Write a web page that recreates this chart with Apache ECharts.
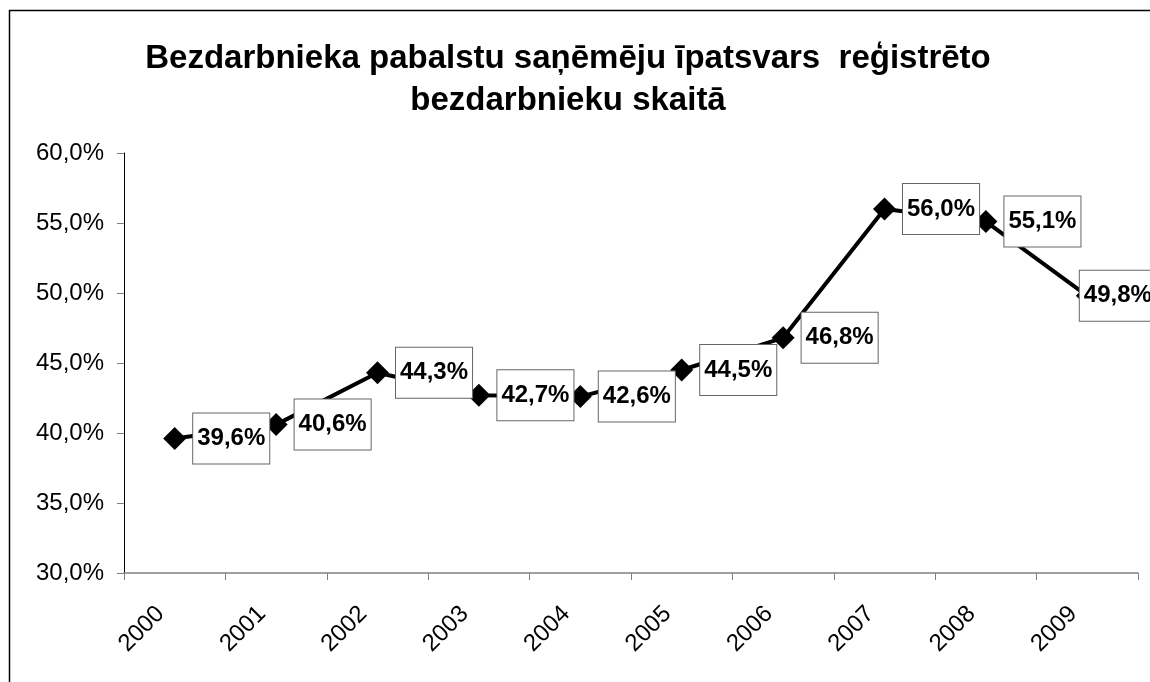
<!DOCTYPE html>
<html>
<head>
<meta charset="utf-8">
<script src="https://cdn.jsdelivr.net/npm/echarts@6/dist/echarts.min.js"></script>
<style>
  html, body { margin: 0; padding: 0; background: #fff; }
  #chart { width: 1150px; height: 682px; }
</style>
</head>
<body>
<div id="chart"></div>
<script>
var years = ['2000', '2001', '2002', '2003', '2004', '2005', '2006', '2007', '2008', '2009']
var share = [39.6, 40.6, 44.3, 42.7, 42.6, 44.5, 46.8, 56.0, 55.1, 49.8]
var yTicks = { min: 30, max: 60, step: 5 }

var fmt = function (v) {
    return v.toFixed(1).replace('.', ',') + '%'
}

var chart = echarts.init(document.getElementById('chart'))

var points = share.map(function (v, i) {
    // last one sits inside the plot, like in the original
    if (i === share.length - 1) {
        return { value: v, label: { offset: [-26, 0] } }
    }
    return v
})

chart.setOption({
    backgroundColor: '#fff',
    animation: false,
    textStyle: { fontFamily: 'Liberation Sans, Arial, sans-serif' },
    title: {
        text: 'Bezdarbnieka pabalstu saņēmēju īpatsvars  reģistrēto\nbezdarbnieku skaitā',
        left: 563,
        top: 33,
        textAlign: 'center',
        textStyle: {
            fontSize: 33,
            fontWeight: 'bold',
            color: '#000',
            lineHeight: 42
        }
    },
    graphic: [{
        type: 'rect',
        shape: { x: 9.5, y: 10.5, width: 1300, height: 800 },
        style: { fill: 'none', stroke: '#000', lineWidth: 1.5 },
        z: 100
    }],
    grid: { left: 124, right: 12, top: 153, bottom: 109 },
    xAxis: {
        type: 'category',
        data: years,
        boundaryGap: true,
        axisLine: { lineStyle: { color: '#808080', width: 1.5 } },
        axisTick: { show: true, length: 7, alignWithLabel: false, lineStyle: { color: '#808080' } },
        axisLabel: {
            rotate: 45, fontSize: 24, color: '#000', margin: 23, interval: 0,
            // trailing spaces push the rotated text down-left a bit
            formatter: function (v) { return v + '   ' }
        }
    },
    yAxis: {
        type: 'value',
        min: yTicks.min,
        max: yTicks.max,
        interval: yTicks.step,
        splitLine: { show: false },
        axisLine: { show: true, lineStyle: { color: '#000', width: 1 } },
        axisTick: { show: true, length: 7, lineStyle: { color: '#808080' } },
        axisLabel: { fontSize: 24, color: '#000', margin: 20, formatter: fmt }
    },
    series: [{
        type: 'line',
        data: points,
        symbol: 'diamond',
        symbolSize: 23,
        lineStyle: { color: '#000', width: 4 },
        itemStyle: { color: '#000' },
        label: {
            show: true,
            position: 'right',
            distance: 7,
            formatter: function (p) { return fmt(p.value) },
            fontSize: 24,
            fontWeight: 'bold',
            color: '#000',
            backgroundColor: '#fff',
            borderColor: '#666',
            borderWidth: 1,
            padding: [14, 4, 12, 4]
        }
    }]
})
</script>
</body>
</html>
